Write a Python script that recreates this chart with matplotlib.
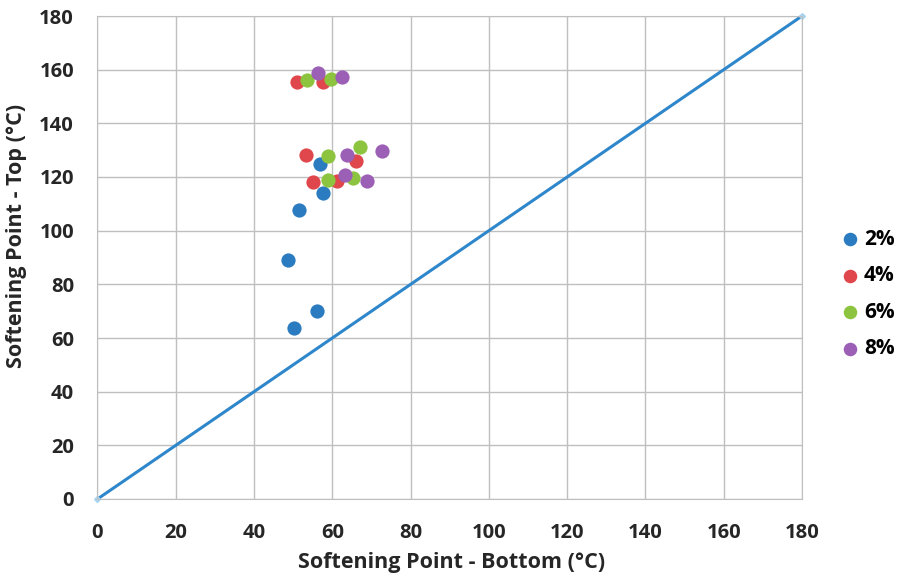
import matplotlib.pyplot as plt

plt.rcParams['font.family'] = ['Open Sans', 'DejaVu Sans']
plt.rcParams['font.weight'] = 'bold'

labels = ['2%', '4%', '6%', '8%']
colors = ['#2B7BC0', '#E0474C', '#8CC43F', '#9B5FB5']

# softening point bottom (x) and top (y) for each dosage
x_2 = [48.8, 50.1, 56.0, 51.4, 57.5, 56.8]
y_2 = [89.1, 63.7, 70.1, 107.7, 114.0, 124.9]
x_4 = [50.9, 57.5, 53.2, 55.0, 61.1, 66.0]
y_4 = [155.4, 155.4, 128.2, 118.1, 118.5, 126.0]
x_6 = [53.4, 59.6, 58.8, 58.8, 65.2, 67.0]
y_6 = [156.2, 156.5, 127.8, 118.9, 119.6, 131.2]
x_8 = [56.3, 62.4, 63.7, 63.2, 68.8, 72.6]
y_8 = [158.8, 157.3, 128.2, 120.8, 118.5, 129.7]

line_x = [0, 180]
line_y = [0, 180]

fig = plt.figure(figsize=(9.03, 5.81), dpi=100)
ax = fig.add_axes([97.5 / 903, 1 - 499 / 581, 704.5 / 903, 483 / 581])

ax.plot(line_x, line_y, color='#2E86CB', lw=2.2, marker='D', ms=3,
        mfc='#A8D4F0', mec='#A8D4F0', zorder=2, clip_on=False)

for xs, ys, c, lab in zip([x_2, x_4, x_6, x_8], [y_2, y_4, y_6, y_8], colors, labels):
    ax.scatter(xs, ys, s=105, color=c, label=lab, zorder=3, linewidths=0)

ax.set_xlim(0, 180)
ax.set_ylim(0, 180)
ax.set_xticks(range(0, 181, 20))
ax.set_yticks(range(0, 181, 20))
ax.grid(True, color='#BFBFBF', lw=1.0)
ax.set_axisbelow(True)
for s in ax.spines.values():
    s.set_color('#BFBFBF')
ax.tick_params(length=0, labelsize=14.5, colors='#262626')
ax.tick_params(axis='x', pad=17)
ax.tick_params(axis='y', pad=17)
ax.set_xlabel('Softening Point - Bottom (°C)', fontsize=15.5, fontweight='bold', color='#262626')
ax.set_ylabel('Softening Point - Top (°C)', fontsize=15.5, fontweight='bold', color='#262626')
ax.xaxis.set_label_coords(0.5, 1 - 552 / 581, transform=fig.transFigure)
ax.yaxis.set_label_coords(27 / 903, 1 - 236 / 581, transform=fig.transFigure)

ax.legend(loc='center left', bbox_to_anchor=(838 / 903, 0.494), bbox_transform=fig.transFigure,
          frameon=False, fontsize=15, labelspacing=0.75, handletextpad=0.05, markerscale=0.95,
          handlelength=1.2, borderaxespad=0, borderpad=0)

fig.savefig('out.png', dpi=100)
